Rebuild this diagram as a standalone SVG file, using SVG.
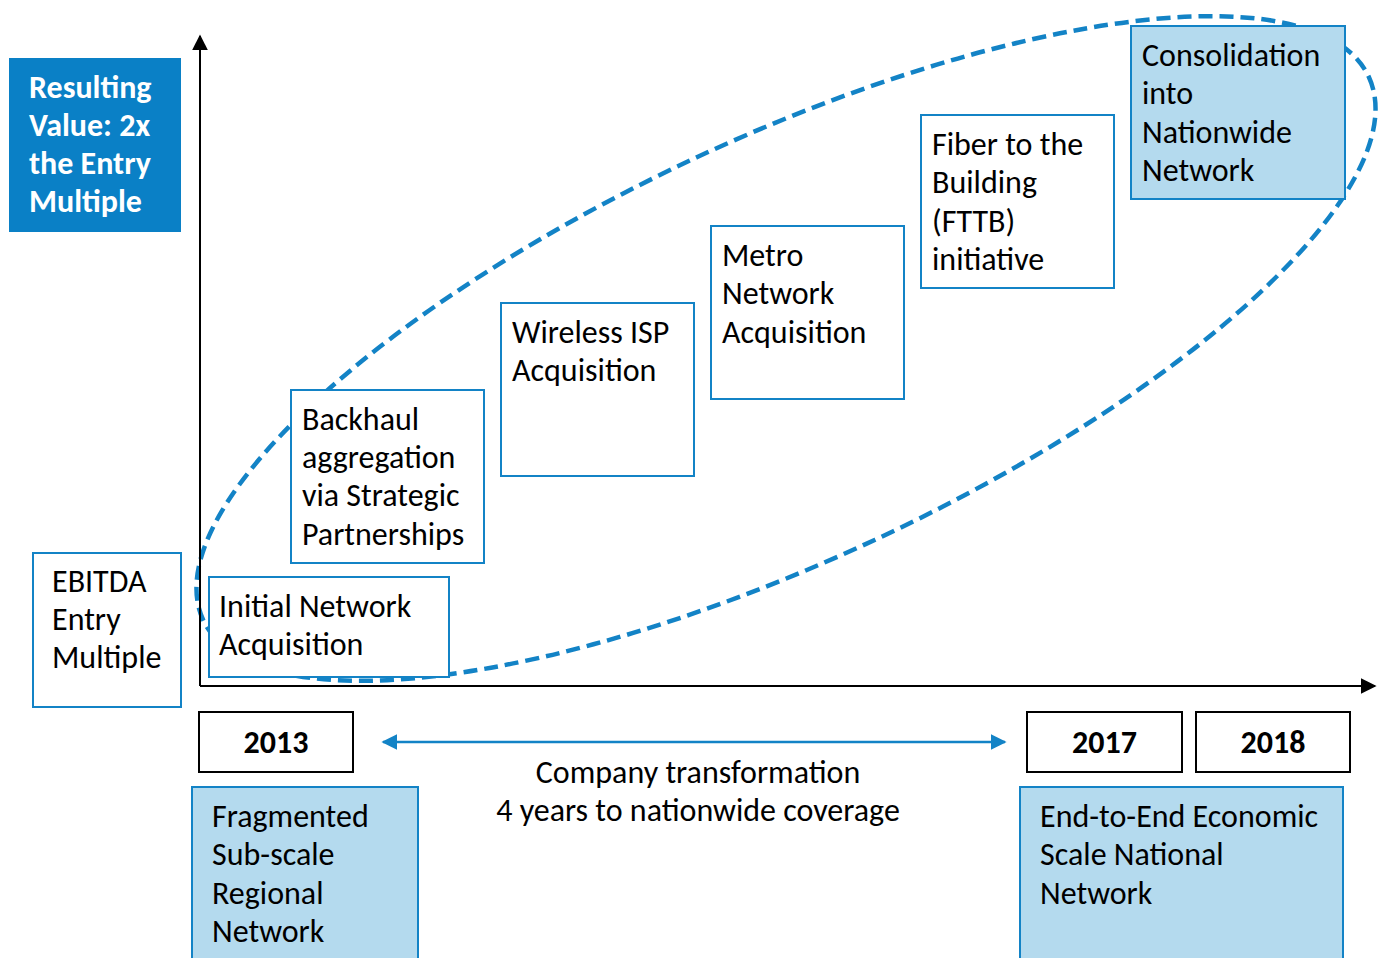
<svg xmlns="http://www.w3.org/2000/svg" width="1384" height="958" viewBox="0 0 1384 958">
<defs>
<style>
text{font-family:Carlito,Lato,"Liberation Sans",sans-serif;font-size:32px;fill:#000}
.b{font-weight:bold}
.w{fill:#fff;font-weight:bold}
.box{fill:#fff;stroke:#1383C6;stroke-width:2}
.lbox{fill:#B4DAEE;stroke:#1383C6;stroke-width:2}
.yr{fill:#fff;stroke:#000;stroke-width:2}
.c{text-anchor:middle}
</style>
<marker id="ab" viewBox="0 0 10 10" refX="9" refY="5" markerWidth="16" markerHeight="16" markerUnits="userSpaceOnUse" orient="auto-start-reverse"><path d="M0,0L10,5L0,10z" fill="#000"/></marker>
<marker id="ac" viewBox="0 0 10 10" refX="9" refY="5" markerWidth="16" markerHeight="16" markerUnits="userSpaceOnUse" orient="auto-start-reverse"><path d="M0,0L10,5L0,10z" fill="#1383C6"/></marker>
</defs>
<rect width="1384" height="958" fill="#fff"/>

<g id="ellipse">
<ellipse cx="786" cy="348.5" rx="643" ry="211" transform="rotate(-25 786 348.5)" fill="none" stroke="#1383C6" stroke-width="4.5" stroke-dasharray="14 7"/>
</g>

<g id="connectors">
<line x1="200" y1="686" x2="200" y2="36" stroke="#000" stroke-width="2" marker-end="url(#ab)"/>
<line x1="200" y1="686" x2="1375" y2="686" stroke="#000" stroke-width="2" marker-end="url(#ab)"/>
<line x1="383" y1="742" x2="1005" y2="742" stroke="#1383C6" stroke-width="2.5" marker-start="url(#ac)" marker-end="url(#ac)"/>
</g>

<g id="result">
<rect x="9" y="58" width="172" height="174" fill="#0A80C6"/>
<text class="w" x="29" y="98">Resulting</text>
<text class="w" x="29" y="136">Value: 2x</text>
<text class="w" x="29" y="174">the Entry</text>
<text class="w" x="29" y="212">Multiple</text>
</g>

<g id="ebitda">
<rect class="box" x="33" y="553" width="148" height="154"/>
<text x="52" y="592">EBITDA</text>
<text x="52" y="630">Entry</text>
<text x="52" y="668">Multiple</text>
</g>

<g id="initial">
<rect class="box" x="209" y="577" width="240" height="100"/>
<text x="219" y="617">Initial Network</text>
<text x="219" y="655">Acquisition</text>
</g>

<g id="backhaul">
<rect class="box" x="291" y="390" width="193" height="173"/>
<text x="302" y="430">Backhaul</text>
<text x="302" y="468">aggregation</text>
<text x="302" y="506">via Strategic</text>
<text x="302" y="545">Partnerships</text>
</g>

<g id="wireless">
<rect class="box" x="501" y="303" width="193" height="173"/>
<text x="512" y="343">Wireless ISP</text>
<text x="512" y="381">Acquisition</text>
</g>

<g id="metro">
<rect class="box" x="711" y="226" width="193" height="173"/>
<text x="722" y="266">Metro</text>
<text x="722" y="304">Network</text>
<text x="722" y="343">Acquisition</text>
</g>

<g id="fttb">
<rect class="box" x="921" y="115" width="193" height="173"/>
<text x="932" y="155">Fiber to the</text>
<text x="932" y="193">Building</text>
<text x="932" y="232">(FTTB)</text>
<text x="932" y="270">initiative</text>
</g>

<g id="consolidation">
<rect class="lbox" x="1131" y="26" width="214" height="173"/>
<text x="1142" y="66">Consolidation</text>
<text x="1142" y="104">into</text>
<text x="1142" y="143">Nationwide</text>
<text x="1142" y="181">Network</text>
</g>

<g id="y2013">
<rect class="yr" x="199" y="712" width="154" height="60"/>
<text class="b c" x="276" y="753">2013</text>
</g>
<g id="y2017">
<rect class="yr" x="1027" y="712" width="155" height="60"/>
<text class="b c" x="1104.5" y="753">2017</text>
</g>
<g id="y2018">
<rect class="yr" x="1196" y="712" width="154" height="60"/>
<text class="b c" x="1273" y="753">2018</text>
</g>

<g id="transformation">
<text class="c" x="698" y="783">Company transformation</text>
<text class="c" x="698" y="821">4 years to nationwide coverage</text>
</g>

<g id="fragmented">
<rect class="lbox" x="192" y="787" width="226" height="180"/>
<text x="212" y="827">Fragmented</text>
<text x="212" y="865">Sub-scale</text>
<text x="212" y="904">Regional</text>
<text x="212" y="942">Network</text>
</g>

<g id="endtoend">
<rect class="lbox" x="1020" y="787" width="323" height="180"/>
<text x="1040" y="827">End-to-End Economic</text>
<text x="1040" y="865">Scale National</text>
<text x="1040" y="904">Network</text>
</g>
</svg>
